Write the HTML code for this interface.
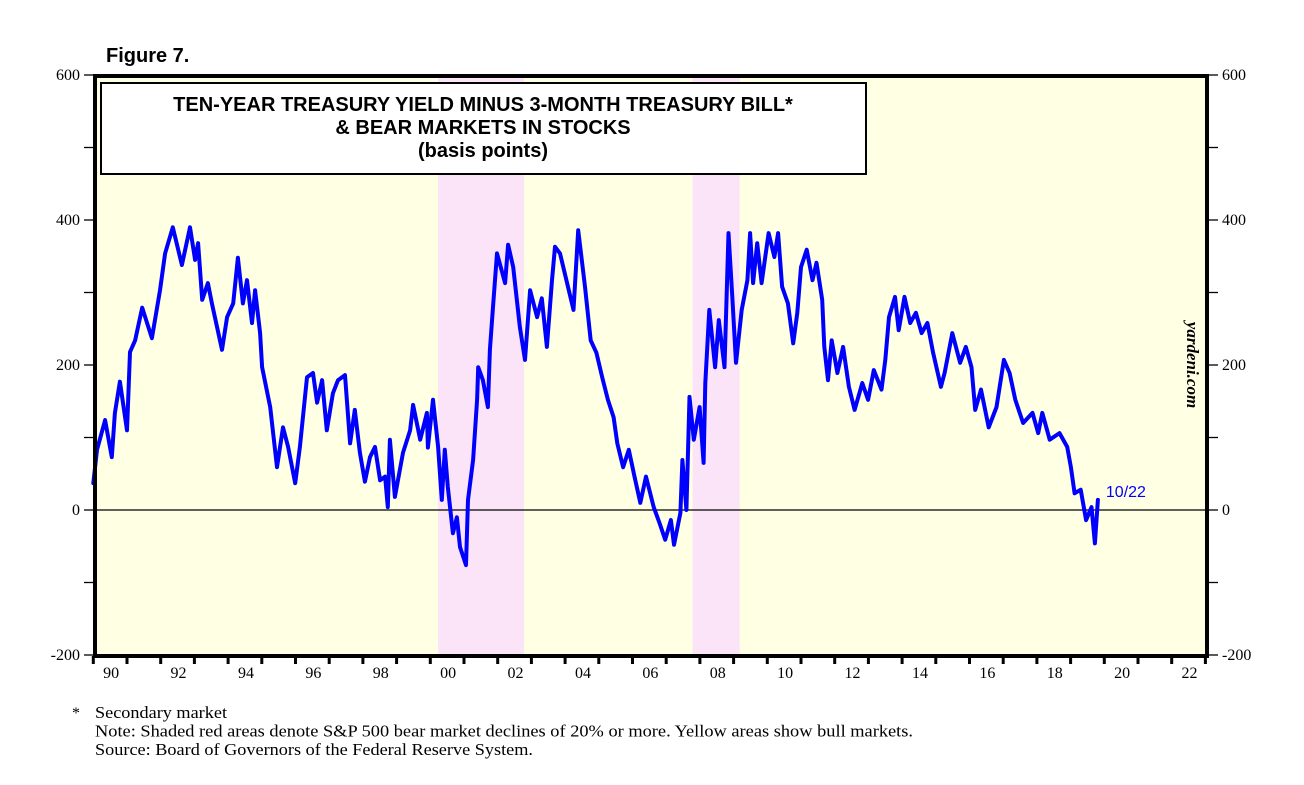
<!DOCTYPE html>
<html><head><meta charset="utf-8"><style>
body{margin:0;background:#fff;width:1304px;height:785px;overflow:hidden;font-family:"Liberation Sans",sans-serif}
svg{position:absolute;left:0;top:0}
</style></head><body>
<svg width="1304" height="785">
<text x="106" y="62" font-family="Liberation Sans" font-weight="bold" font-size="20">Figure 7.</text>
<g id="plot"></g>
</svg>
<script>
const years=[1990.00,1990.11,1990.35,1990.55,1990.64,1990.79,1991.00,1991.09,1991.24,1991.45,1991.74,1991.98,1992.13,1992.36,1992.63,1992.87,1993.02,1993.11,1993.23,1993.40,1993.52,1993.82,1993.97,1994.15,1994.29,1994.44,1994.56,1994.71,1994.80,1994.95,1995.01,1995.25,1995.45,1995.63,1995.78,1995.99,1996.13,1996.34,1996.52,1996.64,1996.79,1996.93,1997.11,1997.26,1997.47,1997.62,1997.76,1997.91,1998.06,1998.21,1998.36,1998.51,1998.66,1998.74,1998.80,1998.95,1999.19,1999.40,1999.49,1999.70,1999.90,1999.93,2000.08,2000.23,2000.34,2000.43,2000.52,2000.67,2000.79,2000.88,2001.06,2001.12,2001.27,2001.39,2001.42,2001.56,2001.71,2001.77,2001.86,2001.98,2002.22,2002.31,2002.46,2002.66,2002.81,2002.96,2003.17,2003.31,2003.46,2003.61,2003.70,2003.85,2004.25,2004.39,2004.59,2004.76,2004.93,2005.10,2005.27,2005.44,2005.55,2005.72,2005.89,2006.06,2006.23,2006.40,2006.63,2006.80,2006.97,2007.14,2007.23,2007.42,2007.48,2007.60,2007.69,2007.82,2007.99,2008.11,2008.16,2008.28,2008.45,2008.56,2008.73,2008.85,2008.96,2009.07,2009.24,2009.41,2009.49,2009.58,2009.70,2009.83,2010.04,2010.21,2010.32,2010.44,2010.61,2010.77,2010.89,2011.00,2011.17,2011.34,2011.46,2011.63,2011.69,2011.80,2011.91,2012.08,2012.25,2012.42,2012.59,2012.82,2012.99,2013.16,2013.39,2013.50,2013.61,2013.79,2013.90,2014.07,2014.24,2014.41,2014.58,2014.75,2014.92,2015.15,2015.26,2015.49,2015.72,2015.89,2016.06,2016.17,2016.34,2016.57,2016.80,2017.02,2017.19,2017.36,2017.59,2017.87,2018.04,2018.16,2018.38,2018.67,2018.90,2019.01,2019.12,2019.30,2019.46,2019.62,2019.72,2019.81];
const spread=[37,83,124,73,134,177,110,218,234,279,237,303,354,390,338,390,345,368,290,313,285,221,266,285,348,285,317,258,303,244,197,142,59,114,87,37,87,183,189,148,179,110,161,179,186,92,138,79,39,73,87,41,46,4,97,18,79,110,145,97,134,86,152,87,14,83,32,-32,-10,-51,-76,14,69,152,197,179,142,221,280,354,313,366,335,252,207,303,266,292,225,317,363,354,276,386,308,234,217,183,152,128,92,59,83,46,10,46,4,-18,-41,-14,-48,-4,69,0,156,97,142,65,175,276,197,262,197,382,294,203,276,317,382,313,368,313,382,349,382,308,285,230,272,335,359,317,341,290,225,179,234,189,225,170,138,175,152,193,166,207,266,294,248,294,258,272,244,258,217,170,189,244,203,225,197,138,166,114,142,207,189,152,120,134,106,134,97,106,87,59,23,28,-14,4,-46,14];
const bearStart=[2000.23,2007.78];
const bearEnd=[2002.78,2009.18];
const yTicks=[600,400,200,0,-200];
const xTickLabels=["90","92","94","96","98","00","02","04","06","08","10","12","14","16","18","20","22"];

const NS="http://www.w3.org/2000/svg";
const g=document.getElementById('plot');
const X0=93.3,PX=33.7,Y0=510,PY=0.725;
const xs=y=>X0+(y-1990)*PX;
const ys=v=>Y0-v*PY;
function el(t,a,p){const e=document.createElementNS(NS,t);for(const k in a)e.setAttribute(k,a[k]);(p||g).appendChild(e);return e;}
const L=95,R=1207,T=76,B=656;
let bg=el('rect',{x:L,y:T,width:R-L,height:B-T,fill:'#ffffe4'});


for(let i=0;i<bearStart.length;i++){
 const r=el('rect',{x:xs(bearStart[i]),y:T,width:xs(bearEnd[i])-xs(bearStart[i]),height:B-T,fill:'#fce4f8'});
 
 
}
let z=el('line',{x1:L,x2:R,y1:ys(0),y2:ys(0),stroke:'#000','stroke-width':1.3});


let tb=el('rect',{x:101,y:83,width:765,height:91,fill:'#fff',stroke:'#000','stroke-width':2});


const titles=["TEN-YEAR TREASURY YIELD MINUS 3-MONTH TREASURY BILL*","& BEAR MARKETS IN STOCKS","(basis points)"];
titles.forEach((s,i)=>{const t=el('text',{x:483,y:111+i*23,'text-anchor':'middle','font-weight':'bold','font-size':20,'font-family':'Liberation Sans'});t.textContent=s;
 
 });
const pts=years.map((y,i)=>xs(y).toFixed(1)+','+ys(spread[i]).toFixed(1)).join(' ');
let ln=el('polyline',{points:pts,fill:'none',stroke:'#0000ff','stroke-width':4,'stroke-linejoin':'round','stroke-linecap':'round'});


let lab=el('text',{x:xs(years[years.length-1])+8,y:ys(spread[spread.length-1])-3,fill:'#0000ff','font-size':16,'font-family':'Liberation Sans'});
lab.textContent='10/22';


let fr=el('rect',{x:L,y:T,width:R-L,height:B-T,fill:'none',stroke:'#000','stroke-width':4});


for(let v=-200;v<=600;v+=100){
 const y=ys(v);
 el('line',{x1:L-11,x2:L,y1:y,y2:y,stroke:'#000','stroke-width':1.3});
 el('line',{x1:R,x2:R+11,y1:y,y2:y,stroke:'#000','stroke-width':1.3});
}
yTicks.forEach(v=>{
 const a=el('text',{x:80,y:ys(v)+5,'text-anchor':'end','font-size':16,'font-family':'Liberation Serif'});a.textContent=v;
 
 
 const b=el('text',{x:1222,y:ys(v)+5,'font-size':16,'font-family':'Liberation Serif'});b.textContent=v;
 
 
});
for(let yr=1990;yr<=2023;yr++){el('line',{x1:xs(yr),x2:xs(yr),y1:B,y2:B+8,stroke:'#000','stroke-width':3});}
xTickLabels.forEach((s,i)=>{const t=el('text',{x:xs(1990+2*i+0.5)+1,y:678,'text-anchor':'middle','font-size':16,'font-family':'Liberation Serif'});t.textContent=s;
 
 });
let yd=el('text',{transform:'translate(1187,365) rotate(90)','text-anchor':'middle','font-size':17,'font-style':'italic','font-weight':'bold','font-family':'Liberation Serif'});
yd.textContent='yardeni.com';


const notes=["Secondary market","Note: Shaded red areas denote S&P 500 bear market declines of 20% or more. Yellow areas show bull markets.","Source: Board of Governors of the Federal Reserve System."];
const noteLen=[132,818,438];
let st=el('text',{x:72,y:718,'font-size':16,'font-family':'Liberation Serif'});st.textContent='*';


notes.forEach((s,i)=>{const t=el('text',{x:95,y:718+i*18.5,'font-size':16.5,'font-family':'Liberation Serif',textLength:noteLen[i],lengthAdjust:'spacingAndGlyphs'});t.textContent=s;
 
 });
</script>
</body></html>
